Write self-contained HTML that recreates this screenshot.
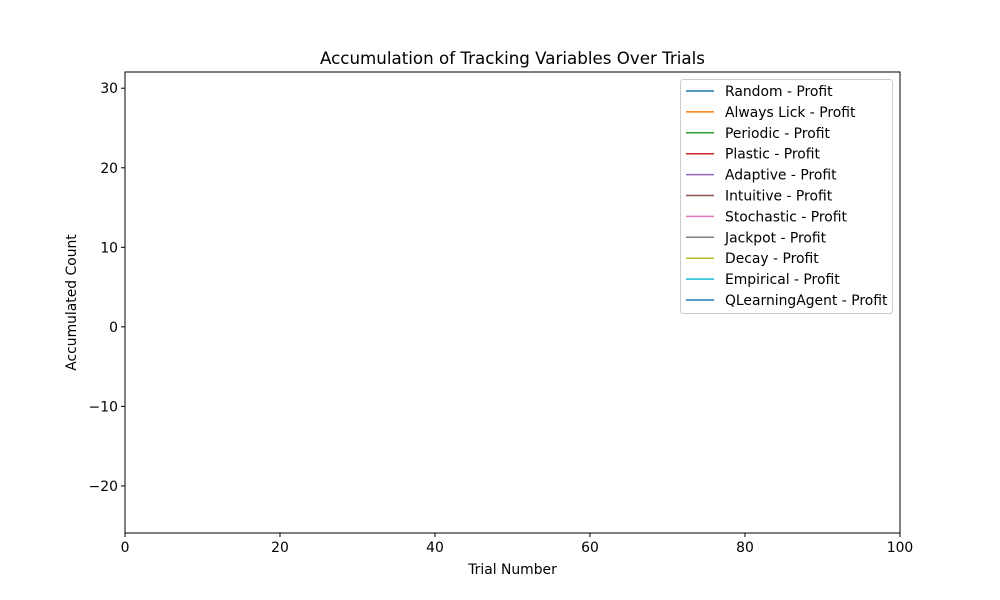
<!DOCTYPE html>
<html><head><meta charset="utf-8">
<style>
html,body{margin:0;padding:0;background:#fff;}
svg{display:block;font-family:"DejaVu Sans","Liberation Sans",sans-serif;}
</style></head>
<body>
<svg id="chart" width="1000" height="600" viewBox="0 0 1000 600">
<rect width="1000" height="600" fill="#fff"/>
<text x="512.5" y="64" text-anchor="middle" font-size="16.7">Accumulation of Tracking Variables Over Trials</text>
<g id="plot"></g>
<rect x="125" y="72" width="775" height="461" fill="none" stroke="#000" stroke-width="1"/>
<g id="xticks"></g><g id="yticks"></g>
<text x="512.5" y="574" text-anchor="middle" font-size="13.9">Trial Number</text>
<text transform="translate(76,302.5) rotate(-90)" text-anchor="middle" font-size="13.9">Accumulated Count</text>
<g id="legend"></g>
</svg>
<script>
const seriesNames = ["Random - Profit","Always Lick - Profit","Periodic - Profit","Plastic - Profit","Adaptive - Profit","Intuitive - Profit","Stochastic - Profit","Jackpot - Profit","Decay - Profit","Empirical - Profit","QLearningAgent - Profit"];
const seriesColors = ["#1f77b4","#ff7f0e","#2ca02c","#d62728","#9467bd","#8c564b","#e377c2","#7f7f7f","#bcbd22","#17becf","#1f77b4"];
const seriesValues = [[],[],[],[],[],[],[],[],[],[],[]];
const xTicks = [0,20,40,60,80,100];
const yTicks = [-20,-10,0,10,20,30];
const xMin=0,xMax=100,yMin=-25.92,yMax=32.04;
const L=125,R=900,T=72,B=533;
const NS="http://www.w3.org/2000/svg";
function sx(v){return L+(v-xMin)/(xMax-xMin)*(R-L);}
function sy(v){return B-(v-yMin)/(yMax-yMin)*(B-T);}
function mk(tag,attrs,parent){const e=document.createElementNS(NS,tag);for(const k in attrs)e.setAttribute(k,attrs[k]);parent.appendChild(e);return e;}
const plot=document.getElementById('plot');
seriesValues.forEach((vals,i)=>{
  if(!vals.length)return;
  const pts=vals.map((v,j)=>sx(j)+","+sy(v)).join(" ");
  const pl=mk('polyline',{points:pts,fill:"none",stroke:seriesColors[i],"stroke-width":1.5},plot);
  
  
});
const xg=document.getElementById('xticks');
xTicks.forEach(t=>{
  const x=sx(t);
  const l=mk('line',{x1:x,x2:x,y1:B,y2:B+4,stroke:"#000"},xg);
  
  
  const tx=mk('text',{x:x,y:B+19,"text-anchor":"middle","font-size":13.9},xg);
  tx.textContent=t;
  
  
});
const yg=document.getElementById('yticks');
yTicks.forEach(t=>{
  const y=sy(t);
  const l=mk('line',{x1:L-4,x2:L,y1:y,y2:y,stroke:"#000"},yg);
  
  
  const tx=mk('text',{x:L-7,y:y+5,"text-anchor":"end","font-size":13.9},yg);
  tx.textContent=(t<0?"\u2212"+Math.abs(t):t);
  
  
});
const lg=document.getElementById('legend');
mk('rect',{x:680.5,y:79.5,width:212,height:234,rx:3,fill:"#fff",stroke:"#ccc","stroke-width":1},lg);
seriesNames.forEach((n,i)=>{
  const y=91+i*20.9;
  const l=mk('line',{x1:686,x2:714,y1:y,y2:y,stroke:seriesColors[i],"stroke-width":1.5},lg);
  
  
  const tx=mk('text',{x:725,y:y+5,"font-size":13.9},lg);
  tx.textContent=n;
  
  
});
</script>
</body></html>
